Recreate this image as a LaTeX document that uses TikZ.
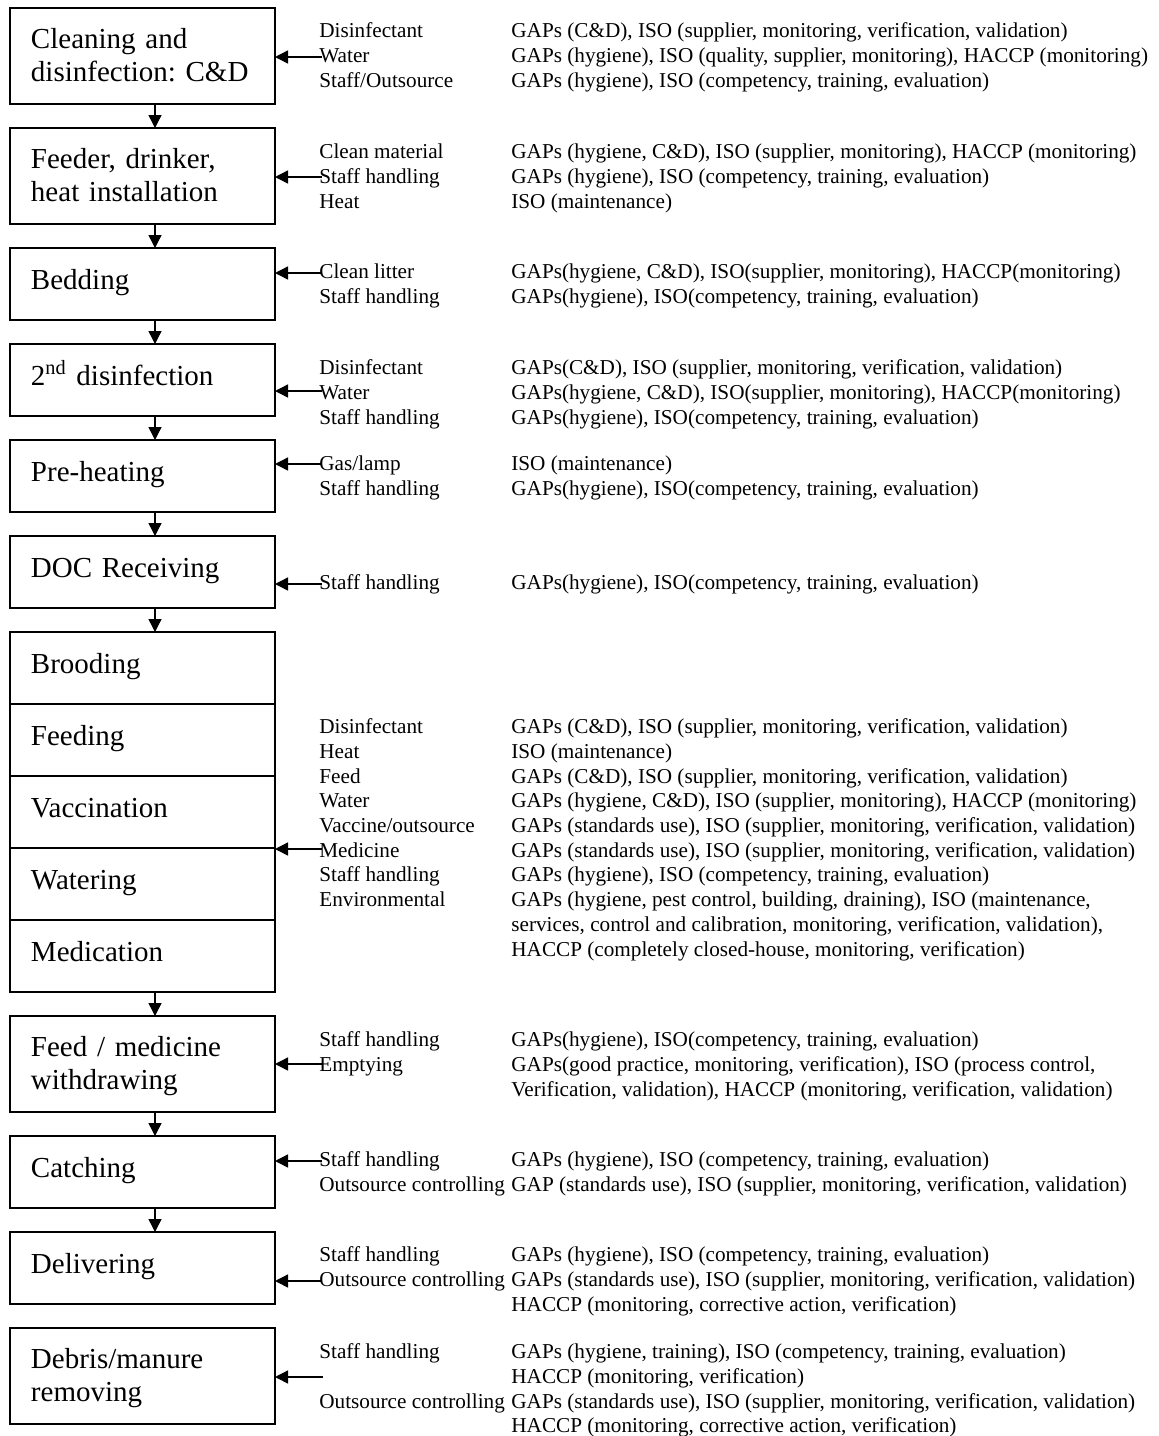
\documentclass[tikz,border=0pt]{standalone}
\usepackage{fontspec}
\setmainfont{Liberation Serif}
\usetikzlibrary{positioning,arrows.meta}
\newcommand{\srcbox}[1]{\makebox[96pt][l]{#1}}
\tikzset{
  stagebox/.style={draw, line width=0.8pt, outer sep=0pt, text width=111.5pt, inner xsep=10.5pt, align=left, font=\fontsize{14.5}{16.5}\selectfont\frenchspacing},
  onebox/.style={stagebox, minimum height=36pt, text height=10pt, text depth=5pt},
  twobox/.style={stagebox, minimum height=48pt, text height=10pt, text depth=17.5pt},
  req/.style={anchor=north west, inner sep=0pt, align=left, font=\fontsize{10.6}{12.35}\selectfont},
  flow/.style={line width=0.7pt, -{Triangle[length=6.5pt,width=6.5pt]}}
}
\begin{document}
\begin{tikzpicture}[x=0.5pt,y=-0.5pt]
\useasboundingbox (0,0) rectangle (1158,1436);
% process steps
\node[twobox, anchor=north west] (cd) at (10,8) {Cleaning and\\disinfection: C\&D};
\node[twobox, below=12pt of cd] (feeder) {Feeder, drinker,\\heat installation};
\node[onebox, below=12pt of feeder] (bedding) {Bedding};
\node[onebox, below=12pt of bedding] (second) {2\textsuperscript{nd} disinfection};
\node[onebox, below=12pt of second] (preheat) {Pre-heating};
\node[onebox, below=12pt of preheat] (doc) {DOC Receiving};
\node[onebox, below=12pt of doc] (brooding) {Brooding};
\node[onebox, below=0pt of brooding] (feeding) {Feeding};
\node[onebox, below=0pt of feeding] (vaccination) {Vaccination};
\node[onebox, below=0pt of vaccination] (watering) {Watering};
\node[onebox, below=0pt of watering] (medication) {Medication};
\node[twobox, below=12pt of medication] (withdraw) {Feed / medicine\\withdrawing};
\node[onebox, below=12pt of withdraw] (catching) {Catching};
\node[onebox, below=12pt of catching] (delivering) {Delivering};
\node[twobox, below=12pt of delivering] (debris) {Debris/manure\\removing};
% flow between steps
\draw[flow] ([xshift=6.25pt]cd.south) -- ([xshift=6.25pt]feeder.north);
\draw[flow] ([xshift=6.25pt]feeder.south) -- ([xshift=6.25pt]bedding.north);
\draw[flow] ([xshift=6.25pt]bedding.south) -- ([xshift=6.25pt]second.north);
\draw[flow] ([xshift=6.25pt]second.south) -- ([xshift=6.25pt]preheat.north);
\draw[flow] ([xshift=6.25pt]preheat.south) -- ([xshift=6.25pt]doc.north);
\draw[flow] ([xshift=6.25pt]doc.south) -- ([xshift=6.25pt]brooding.north);
\draw[flow] ([xshift=6.25pt]medication.south) -- ([xshift=6.25pt]withdraw.north);
\draw[flow] ([xshift=6.25pt]withdraw.south) -- ([xshift=6.25pt]catching.north);
\draw[flow] ([xshift=6.25pt]catching.south) -- ([xshift=6.25pt]delivering.north);
% inputs and standards
\node[req] (cdreq) at (319,20) {\strut\srcbox{Disinfectant}GAPs (C\&D), ISO (supplier, monitoring, verification, validation)\\
  \srcbox{Water}GAPs (hygiene), ISO (quality, supplier, monitoring), HACCP (monitoring)\\
  \srcbox{Staff/Outsource}GAPs (hygiene), ISO (competency, training, evaluation)};
\node[req] (feederreq) at (319,141) {\strut\srcbox{Clean material}GAPs (hygiene, C\&D), ISO (supplier, monitoring), HACCP (monitoring)\\
  \srcbox{Staff handling}GAPs (hygiene), ISO (competency, training, evaluation)\\
  \srcbox{Heat}ISO (maintenance)};
\node[req] (beddingreq) at (319,261) {\strut\srcbox{Clean litter}GAPs(hygiene, C\&D), ISO(supplier, monitoring), HACCP(monitoring)\\
  \srcbox{Staff handling}GAPs(hygiene), ISO(competency, training, evaluation)};
\node[req] (secondreq) at (319,357) {\strut\srcbox{Disinfectant}GAPs(C\&D), ISO (supplier, monitoring, verification, validation)\\
  \srcbox{Water}GAPs(hygiene, C\&D), ISO(supplier, monitoring), HACCP(monitoring)\\
  \srcbox{Staff handling}GAPs(hygiene), ISO(competency, training, evaluation)};
\node[req] (preheatreq) at (319,453) {\strut\srcbox{Gas/lamp}ISO (maintenance)\\
  \srcbox{Staff handling}GAPs(hygiene), ISO(competency, training, evaluation)};
\node[req] (docreq) at (319,572) {\strut\srcbox{Staff handling}GAPs(hygiene), ISO(competency, training, evaluation)};
\node[req] (growreq) at (319,716) {\strut\srcbox{Disinfectant}GAPs (C\&D), ISO (supplier, monitoring, verification, validation)\\
  \srcbox{Heat}ISO (maintenance)\\
  \srcbox{Feed}GAPs (C\&D), ISO (supplier, monitoring, verification, validation)\\
  \srcbox{Water}GAPs (hygiene, C\&D), ISO (supplier, monitoring), HACCP (monitoring)\\
  \srcbox{Vaccine/outsource}GAPs (standards use), ISO (supplier, monitoring, verification, validation)\\
  \srcbox{Medicine}GAPs (standards use), ISO (supplier, monitoring, verification, validation)\\
  \srcbox{Staff handling}GAPs (hygiene), ISO (competency, training, evaluation)\\
  \srcbox{Environmental}GAPs (hygiene, pest control, building, draining), ISO (maintenance,\\
  \srcbox{}services, control and calibration, monitoring, verification, validation),\\
  \srcbox{}HACCP (completely closed-house, monitoring, verification)};
\node[req] (withdrawreq) at (319,1029) {\strut\srcbox{Staff handling}GAPs(hygiene), ISO(competency, training, evaluation)\\
  \srcbox{Emptying}GAPs(good practice, monitoring, verification), ISO (process control,\\
  \srcbox{}Verification, validation), HACCP (monitoring, verification, validation)};
\node[req] (catchingreq) at (319,1149) {\strut\srcbox{Staff handling}GAPs (hygiene), ISO (competency, training, evaluation)\\
  \srcbox{Outsource controlling}GAP (standards use), ISO (supplier, monitoring, verification, validation)};
\node[req] (deliveringreq) at (319,1244) {\strut\srcbox{Staff handling}GAPs (hygiene), ISO (competency, training, evaluation)\\
  \srcbox{Outsource controlling}GAPs (standards use), ISO (supplier, monitoring, verification, validation)\\
  \srcbox{}HACCP (monitoring, corrective action, verification)};
\node[req] (debrisreq) at (319,1341) {\strut\srcbox{Staff handling}GAPs (hygiene, training), ISO (competency, training, evaluation)\\
  \srcbox{}HACCP (monitoring, verification)\\
  \srcbox{Outsource controlling}GAPs (standards use), ISO (supplier, monitoring, verification, validation)\\
  \srcbox{}HACCP (monitoring, corrective action, verification)};
% input arrows
\coordinate (cdin) at (322,57);
\coordinate (feederin) at (322,177);
\coordinate (beddingin) at (322,273);
\coordinate (secondin) at (322,391);
\coordinate (preheatin) at (322,464);
\coordinate (docin) at (322,584);
\coordinate (growin) at (322,849);
\coordinate (withdrawin) at (322,1064);
\coordinate (catchingin) at (322,1161);
\coordinate (deliveringin) at (322,1281);
\coordinate (debrisin) at (323,1377);
\draw[flow] (cdin) -- (cdin -| cd.east);
\draw[flow] (feederin) -- (feederin -| feeder.east);
\draw[flow] (beddingin) -- (beddingin -| bedding.east);
\draw[flow] (secondin) -- (secondin -| second.east);
\draw[flow] (preheatin) -- (preheatin -| preheat.east);
\draw[flow] (docin) -- (docin -| doc.east);
\draw[flow] (growin) -- (growin -| vaccination.east);
\draw[flow] (withdrawin) -- (withdrawin -| withdraw.east);
\draw[flow] (catchingin) -- (catchingin -| catching.east);
\draw[flow] (deliveringin) -- (deliveringin -| delivering.east);
\draw[flow] (debrisin) -- (debrisin -| debris.east);
\end{tikzpicture}
\end{document}
